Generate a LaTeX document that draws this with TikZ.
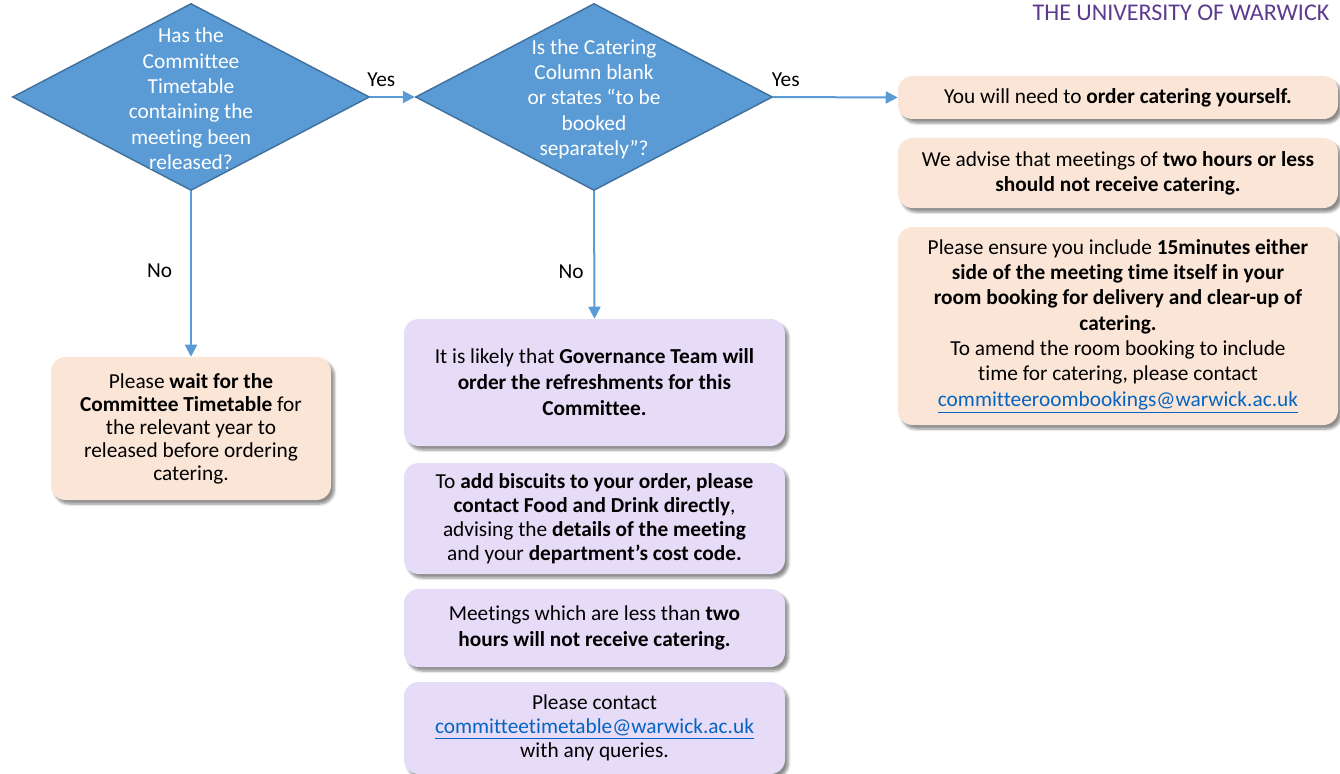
\documentclass[tikz,border=0pt]{standalone}
\usepackage{fontspec}
\setmainfont{Carlito}[Ligatures=NoCommon]
\usetikzlibrary{shapes.geometric, arrows.meta, shadows.blur}

\newcommand{\emaillink}[1]{\textcolor{linkColour}{\underline{#1}}}

\begin{document}
\begin{tikzpicture}[x=0.75pt, y=-0.75pt]
    \definecolor{decisionFill}{HTML}{5B9BD5}
    \definecolor{decisionBorder}{HTML}{41719C}
    \definecolor{lineColour}{HTML}{5B9BD5}
    \definecolor{peachFill}{HTML}{FBE5D6}
    \definecolor{lilacFill}{HTML}{E6DCF8}
    \definecolor{linkColour}{HTML}{0563C1}
    \definecolor{warwickPurple}{HTML}{5C3A8E}

    \tikzset{
        decision/.style={diamond, fill=decisionFill, draw=decisionBorder, line width=1.1pt,
            inner sep=0pt, minimum width=267.75pt, minimum height=140.25pt},
        decisiontext/.style={align=center, text=white, font=\fontsize{16}{19}\selectfont},
        infobox/.style={rectangle, rounded corners=11pt, align=center, inner sep=0pt,
            font=\fontsize{16}{19}\selectfont,
            blur shadow={shadow xshift=2.5pt, shadow yshift=-3pt, shadow blur steps=6, shadow opacity=45}},
        peachbox/.style={infobox, fill=peachFill},
        lilacbox/.style={infobox, fill=lilacFill, minimum width=285.75pt},
        flow/.style={draw=lineColour, line width=1.5pt, -{Triangle[length=9pt, width=9pt]}},
        flowlabel/.style={font=\fontsize{16}{19}\selectfont, text=black}
    }

    \useasboundingbox (0,0) rectangle (1340,774);

    % Heading
    \node[anchor=base east, text=warwickPurple, font=\fontsize{18}{21}\selectfont] (heading) at (1334,21) {THE UNIVERSITY OF WARWICK};

    % Decisions
    \node[decision] (q1) at (191,97) {};
    \node[decisiontext] (q1text) at (191,99) {Has the\\Committee\\Timetable\\containing the\\meeting been\\released?};
    \node[decision] (q2) at (594,97) {};
    \node[decisiontext] (q2text) at (594,99) {Is the Catering\\Column blank\\or states “to be\\booked\\separately”?};

    % Yes branch: order catering yourself
    \node[peachbox, minimum width=330pt, minimum height=32.25pt] (order) at (1118,97.5)
        {You will need to \textbf{order catering yourself.}};
    \node[peachbox, minimum width=330pt, minimum height=52.5pt] (advise) at (1118,173)
        {We advise that meetings of \textbf{two hours or less}\\\textbf{should not receive catering.}};
    \node[peachbox, minimum width=330pt, minimum height=148.5pt] (ensure) at (1118,326)
        {Please ensure you include \textbf{15minutes either}\\
         \textbf{side of the meeting time itself in your}\\
         \textbf{room booking for delivery and clear-up of}\\
         \textbf{catering.}\\
         To amend the room booking to include\\
         time for catering, please contact\\
         \emaillink{committeeroombookings@warwick.ac.uk}};

    % No branch: wait for the timetable
    \node[peachbox, minimum width=210pt, minimum height=107.25pt, font=\fontsize{16}{17.3}\selectfont] (wait) at (191,428.5)
        {Please \textbf{wait for the}\\\textbf{Committee Timetable} for\\the relevant year to\\released before ordering\\catering.};

    % No branch: Governance Team orders
    \node[lilacbox, minimum height=95.25pt, font=\fontsize{16}{19.5}\selectfont] (governance) at (594.5,382.5)
        {It is likely that \textbf{Governance Team will}\\\textbf{order the refreshments for this}\\\textbf{Committee.}};
    \node[lilacbox, minimum height=83.25pt, font=\fontsize{16}{18}\selectfont] (biscuits) at (594.5,518.5)
        {To \textbf{add biscuits to your order, please}\\
         \textbf{contact Food and Drink directly},\\
         advising the \textbf{details of the meeting}\\
         and your \textbf{department’s cost code.}};
    \node[lilacbox, minimum height=58.5pt] (lessthan) at (594.5,628)
        {Meetings which are less than \textbf{two}\\\textbf{hours will not receive catering.}};
    \node[lilacbox, minimum height=69pt, font=\fontsize{16}{18}\selectfont] (queries) at (594.5,728)
        {Please contact\\\emaillink{committeetimetable@warwick.ac.uk}\\with any queries.};

    % Connectors
    \draw[flow] (q1.east) -- node[flowlabel, above=4pt, pos=0.25] {Yes} (q2.west);
    \draw[flow] (q2.east) -- node[flowlabel, above=4pt, pos=0.1] {Yes} (order.west);
    \draw[flow] (q1.south) -- node[flowlabel, left=10pt, pos=0.48] {No} (wait.north);
    \draw[flow] (q2.south) -- node[flowlabel, left=4pt, pos=0.63] {No} (governance.north);

\end{tikzpicture}
\end{document}
